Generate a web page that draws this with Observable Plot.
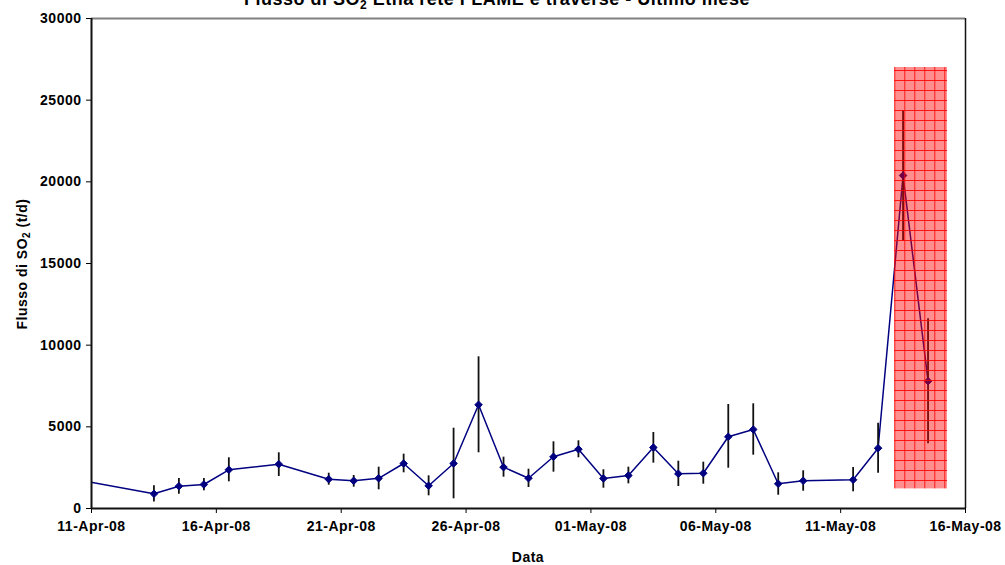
<!DOCTYPE html>
<html>
<head>
<meta charset="utf-8">
<script src="https://cdn.jsdelivr.net/npm/d3@7"></script>
<script src="https://cdn.jsdelivr.net/npm/@observablehq/plot@0.6"></script>
<style>
  html, body { margin: 0; padding: 0; background: white; overflow: hidden; }
</style>
</head>
<body>
<div id="chart"></div>
<script>
// Dates of the measurements (noon UTC); the first is just before the visible range
const dates = [
  "2008-04-10", "2008-04-13", "2008-04-14", "2008-04-15", "2008-04-16", "2008-04-18",
  "2008-04-20", "2008-04-21", "2008-04-22", "2008-04-23", "2008-04-24", "2008-04-25",
  "2008-04-26", "2008-04-27", "2008-04-28", "2008-04-29", "2008-04-30", "2008-05-01",
  "2008-05-02", "2008-05-03", "2008-05-04", "2008-05-05", "2008-05-06", "2008-05-07",
  "2008-05-08", "2008-05-09", "2008-05-11", "2008-05-12", "2008-05-13", "2008-05-14"
];
// SO2 flux (t/d)
const flux = [
  1750, 900, 1365, 1470, 2370, 2712,
  1794, 1696, 1850, 2755, 1390, 2755,
  6349, 2530, 1855, 3165, 3630, 1837,
  2020, 3735, 2124, 2161, 4390, 4837,
  1512, 1696, 1757, 3692, 20388, 7794
];
// error bar bounds
const errLow = [
  1300, 400, 876, 1083, 1635, 1960,
  1427, 1305, 1145, 2185, 777, 594,
  3410, 1917, 1286, 2224, 3104, 1243,
  1510, 2775, 1347, 1488, 2467, 3264,
  814, 1059, 1022, 2161, 16366, 3961
];
const errHigh = [
  2200, 1390, 1837, 1837, 3104, 3410,
  2160, 2020, 2530, 3325, 2000, 4916,
  9286, 3143, 2408, 4083, 4144, 2370,
  2530, 4653, 2896, 2835, 6367, 6410,
  2186, 2308, 2510, 5223, 24367, 11613
];
// highlighted period (red box)
const boxStart = ["2008-05-13T03:50"];
const boxEnd = ["2008-05-15T06:40"];
const boxLow = [1200];
const boxHigh = [27000];

const xTicks = ["2008-04-11", "2008-04-16", "2008-04-21", "2008-04-26", "2008-05-01", "2008-05-06", "2008-05-11", "2008-05-16"];
const yTicks = [0, 5000, 10000, 15000, 20000, 25000, 30000];
const xDomain = ["2008-04-11", "2008-05-16"];

const toDate = s => new Date(s + (s.length === 10 ? "T12:00:00Z" : ":00Z"));
const data = dates.map((d, i) => ({date: toDate(d), flux: flux[i], lo: errLow[i], hi: errHigh[i]}));
const box = boxStart.map((s, i) => ({x1: toDate(s), x2: toDate(boxEnd[i]), y1: boxLow[i], y2: boxHigh[i]}));
const tickDates = xTicks.map(s => new Date(s + "T00:00:00Z"));
const domain = xDomain.map(s => new Date(s + "T00:00:00Z"));
const fmt = d3.utcFormat("%d-%b-%y");

const navy = "#000080";

const chart = Plot.plot({
  width: 1005,
  height: 565,
  marginLeft: 91,
  marginRight: 40,
  marginTop: 18,
  marginBottom: 57,
  style: {fontFamily: "'Liberation Sans', Arial, sans-serif", fontSize: "14px", fontWeight: "bold", background: "white", color: "black", letterSpacing: "0.5px"},
  x: {type: "utc", domain, ticks: tickDates, tickFormat: fmt, tickSize: 5, tickPadding: 8, label: null},
  y: {domain: [0, 30000], ticks: yTicks, tickFormat: d => String(d), tickSize: 5, tickPadding: 5, label: null},
  marks: [
    Plot.ruleY([30000], {stroke: "#808080", strokeWidth: 2}),
    Plot.ruleX([domain[1]], {stroke: "#111", strokeWidth: 1.5}),
    Plot.line(data, {x: "date", y: "flux", stroke: navy, strokeWidth: 1.5, clip: true}),
    Plot.ruleX(data, {x: "date", y1: "lo", y2: "hi", stroke: "#111", strokeWidth: 1.8, clip: true}),
    Plot.dot(data, {x: "date", y: "flux", symbol: "diamond2", r: 3.4, fill: navy, stroke: navy, strokeWidth: 1, clip: true}),
    Plot.rect(box, {x1: "x1", x2: "x2", y1: "y1", y2: "y2", fill: "red"}),
    Plot.ruleY([0], {stroke: "#111", strokeWidth: 2}),
    Plot.ruleX([domain[0]], {stroke: "#111", strokeWidth: 2})
  ]
});

document.getElementById("chart").appendChild(chart);

const svg = d3.select(chart);
// pattern for the red box
const defs = svg.insert("defs", ":first-child");
const pat = defs.append("pattern")
  .attr("id", "redGrid")
  .attr("patternUnits", "userSpaceOnUse")
  .attr("x", 4.3).attr("y", 0)
  .attr("width", 10).attr("height", 10);
pat.append("rect").attr("width", 10).attr("height", 10).attr("fill", "#ff0000").attr("fill-opacity", 0.44);
pat.append("path").attr("d", "M0.5,0V10M0,0.5H10").attr("stroke", "#ff0000").attr("stroke-opacity", 0.85).attr("stroke-width", 1).attr("fill", "none");
svg.selectAll("g[aria-label='rect'] rect").attr("fill", "url(#redGrid)");
svg.selectAll("g[aria-label='rect']").attr("fill", "url(#redGrid)");

// title (partially clipped at top as in the reference)
const title = svg.append("text")
  .attr("x", 497).attr("y", 5)
  .attr("text-anchor", "middle")
  .attr("font-size", 18).attr("font-weight", "bold").attr("fill", "black");
title.append("tspan").text("Flusso di SO");
title.append("tspan").attr("font-size", 12).attr("dy", 4).text("2");
title.append("tspan").attr("dy", -4).text(" Etna rete FLAME e traverse - Ultimo mese");

// y-axis label
const ylab = svg.append("text")
  .attr("transform", "translate(27,264) rotate(-90)")
  .attr("text-anchor", "middle")
  .attr("font-size", 14).attr("font-weight", "bold").attr("fill", "black");
ylab.append("tspan").text("Flusso di SO");
ylab.append("tspan").attr("font-size", 10).attr("dy", 3).text("2");
ylab.append("tspan").attr("dy", -3).text(" (t/d)");

// x-axis label
svg.append("text")
  .attr("x", 528).attr("y", 562)
  .attr("text-anchor", "middle")
  .attr("font-size", 14).attr("font-weight", "bold").attr("fill", "black")
  .text("Data");
</script>
</body>
</html>
